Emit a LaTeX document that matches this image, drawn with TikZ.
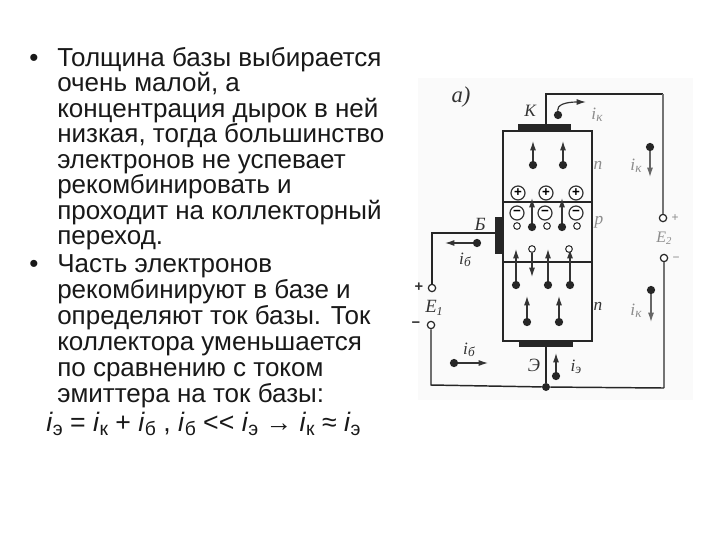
\documentclass[tikz,border=0pt]{standalone}
\usepackage{fontspec}
\setmainfont{Liberation Sans}
\newfontfamily\scanfont{Liberation Serif}
\usetikzlibrary{arrows.meta}
\newcommand{\ii}[1]{\textit{i}\raisebox{-0.32ex}{\fontsize{14.5}{15}\selectfont #1}}
\newcommand{\si}[1]{\textit{i}\raisebox{-0.3ex}{\fontsize{10}{10}\selectfont\textit{#1}}}
\tikzset{
 txt/.style={anchor=base west,inner sep=0pt,font=\fontsize{19.5}{21}\selectfont,text=black!90},
 wire/.style={line width=1.1pt,draw=black!85},
 wirelt/.style={line width=0.9pt,draw=black!55},
 region/.style={line width=1pt,draw=black!85},
 plate/.style={fill=black!85,draw=none,inner sep=0pt},
 edot/.style={circle,fill=black!85,draw=none,inner sep=0pt,minimum size=6.2pt},
 hole/.style={circle,fill=white,draw=black!80,line width=0.8pt,inner sep=0pt,minimum size=5pt},
 term/.style={circle,fill=white,draw=black!85,line width=0.9pt,inner sep=0pt,minimum size=5.5pt},
 chg/.style={circle,fill=white,draw=black!80,line width=0.9pt,inner sep=0pt,minimum size=10.5pt,font=\fontsize{10}{10}\selectfont\bfseries},
 flow/.style={line width=0.9pt,draw=black!80,-{Latex[length=7pt,width=4.5pt]}},
 lbl/.style={inner sep=0pt,font=\scanfont\itshape\fontsize{13}{14}\selectfont,text=black!80},
 lblpale/.style={lbl,text=black!45},
}
\begin{document}
\begin{tikzpicture}[x=0.75pt,y=-0.75pt]
\useasboundingbox (0,0) rectangle (720,540);
\fill[white] (0,0) rectangle (720,540);
\fill[black!2] (418,78) rectangle (693,400);
% text
\node[txt] (b1) at (29,66) {•};
\node[txt] (l1) at (57,66) {Толщина базы выбирается};
\node[txt] (l2) at (57,91.5) {очень малой, а};
\node[txt] (l3) at (57,117) {концентрация дырок в ней};
\node[txt] (l4) at (57,142.5) {низкая, тогда большинство};
\node[txt] (l5) at (57,168) {электронов не успевает};
\node[txt] (l6) at (57,193.5) {рекомбинировать и};
\node[txt] (l7) at (57,219) {проходит на коллекторный};
\node[txt] (l8) at (57,244.5) {переход.};
\node[txt] (b2) at (29,272) {•};
\node[txt] (l9) at (57,272) {Часть электронов};
\node[txt] (l10) at (57,298) {рекомбинируют в базе и};
\node[txt] (l11) at (57,324) {определяют ток базы. Ток};
\node[txt] (l12) at (57,350) {коллектора уменьшается};
\node[txt] (l13) at (57,376) {по сравнению с током};
\node[txt] (l14) at (57,402) {эмиттера на ток базы:};
\node[txt,font=\fontsize{20}{22}\selectfont] (f) at (46,431) {\ii{э} = \ii{к} + \ii{б} , \ii{б} <{}< \ii{э} → \ii{к} ≈ \ii{э}};
% structure
\draw[region] (503,131) rectangle (592,341);
\draw[region] (503,202) -- (592,202);
\draw[region] (503,262) -- (592,262);
\node[plate,minimum width=40pt,minimum height=5.5pt] (K) at (544.5,127.5) {};
\node[plate,minimum width=40.5pt,minimum height=4.5pt] (Em) at (546,344) {};
\node[plate,minimum width=5.5pt,minimum height=28pt] (B) at (499,235.5) {};
% terminals
\node[term] (t1) at (663,218) {};
\node[term] (t2) at (664,258) {};
\node[term] (t3) at (432,288) {};
\node[term] (t4) at (431,325) {};
\node[edot,minimum size=6pt] (J) at (546,387) {};
% wires
\coordinate (kup) at (546,94);
\coordinate (kr) at (663,94);
\coordinate (bl) at (432,233);
\coordinate (ll) at (431,385);
\coordinate (lr) at (664,388);
\draw[wire] (K.north -| kup) -- (kup) -- (kr);
\draw[wirelt] (kr) -- (t1);
\draw[wirelt] (t2) -- (lr);
\draw[wire] (lr) -- (J) -- (ll) -- (t4);
\draw[wire] (t3) -- (bl) -- (B.west |- bl);
\draw[wire] (Em) -- (J);
% charges
\foreach \n/\x/\y in {p1/518/193,p2/546/193,p3/576/193}
  \node[chg] (\n) at (\x,\y) {+};
\foreach \n/\x/\y in {m1/517/213,m2/545/213,m3/576/213}
  \node[chg] (\n) at (\x,\y) {−};
\foreach \n/\x/\y in {h1/517/226,h2/547/226,h3/577/226}
  \node[hole] (\n) at (\x,\y) {};
% electrons with arrows up
\foreach \n/\x/\y/\e in {a/533/165/141,c/563/165/141,d/532/227/198,g/562/227/198,u/516/285/249,v/548/285/249,w/570/285/249,q/527/322/296,r/559/322/296}{
  \node[edot] (\n) at (\x,\y) {};
  \coordinate (\n e) at (\x,\e);
  \draw[flow] (\n) -- (\n e);
}
\node[hole] (h4) at (532,249) {};
\node[hole] (h5) at (569,249) {};
\coordinate (h4e) at (532,277);
\draw[flow] (h4) -- (h4e);
% current carriers
\node[edot] (ck) at (558,115) {};
\coordinate (cke) at (586,102);
\draw[flow] (ck) .. controls (557,105) and (565,102) .. (cke);
\node[edot] (ik1) at (650,147) {};
\coordinate (ik1e) at (650,177);
\draw[flow,draw=black!60] (ik1) -- (ik1e);
\node[edot] (ik2) at (651,290) {};
\coordinate (ik2e) at (651,322);
\draw[flow,draw=black!60] (ik2) -- (ik2e);
\node[edot] (ib1) at (477,243) {};
\coordinate (ib1e) at (445,243);
\draw[flow] (ib1) -- (ib1e);
\node[edot] (ib2) at (454,363) {};
\coordinate (ib2e) at (488,363);
\draw[flow] (ib2) -- (ib2e);
\node[edot] (ie) at (556,376) {};
\coordinate (iee) at (556,353);
\draw[flow] (ie) -- (iee);
% labels
\node[lbl,font=\scanfont\itshape\fontsize{17}{17}\selectfont] (la) at (461,97) {а)};
\node[lbl,font=\scanfont\itshape\fontsize{13}{13}\selectfont] (lK) at (530,111) {К};
\node[lbl,font=\scanfont\itshape\fontsize{14}{14}\selectfont] (lB) at (480,224) {Б};
\node[lbl,font=\scanfont\itshape\fontsize{14}{14}\selectfont] (lE) at (534,365) {Э};
\node[lblpale] (n1) at (598,165) {n};
\node[lbl] (n2) at (598,306) {n};
\node[lblpale] (pp) at (599,222) {p};
\node[lblpale] (tk) at (597,115) {\si{к}};
\node[lblpale] (tk1) at (636,166) {\si{к}};
\node[lblpale] (tk2) at (636,311) {\si{к}};
\node[lbl] (tb1) at (465,260) {\si{б}};
\node[lbl] (tb2) at (469,350) {\si{б}};
\node[lbl] (te) at (576,367) {\si{э}};
\node[lbl,font=\scanfont\itshape\fontsize{14}{14}\selectfont] (E1) at (434,308) {E\raisebox{-0.3ex}{\fontsize{9}{9}\selectfont 1}};
\node[lblpale,font=\scanfont\itshape\fontsize{12}{12}\selectfont] (E2) at (664,238) {E\raisebox{-0.3ex}{\fontsize{8}{8}\selectfont 2}};
\node[lbl,font=\fontsize{11}{11}\selectfont\bfseries] (sp1) at (419,287) {+};
\node[lbl,font=\fontsize{11}{11}\selectfont\bfseries] (sm1) at (416,325) {−};
\node[lblpale,font=\fontsize{9}{9}\selectfont] (sp2) at (675,218) {+};
\node[lblpale,font=\fontsize{9}{9}\selectfont] (sm2) at (676,259) {−};
\end{tikzpicture}
\end{document}
